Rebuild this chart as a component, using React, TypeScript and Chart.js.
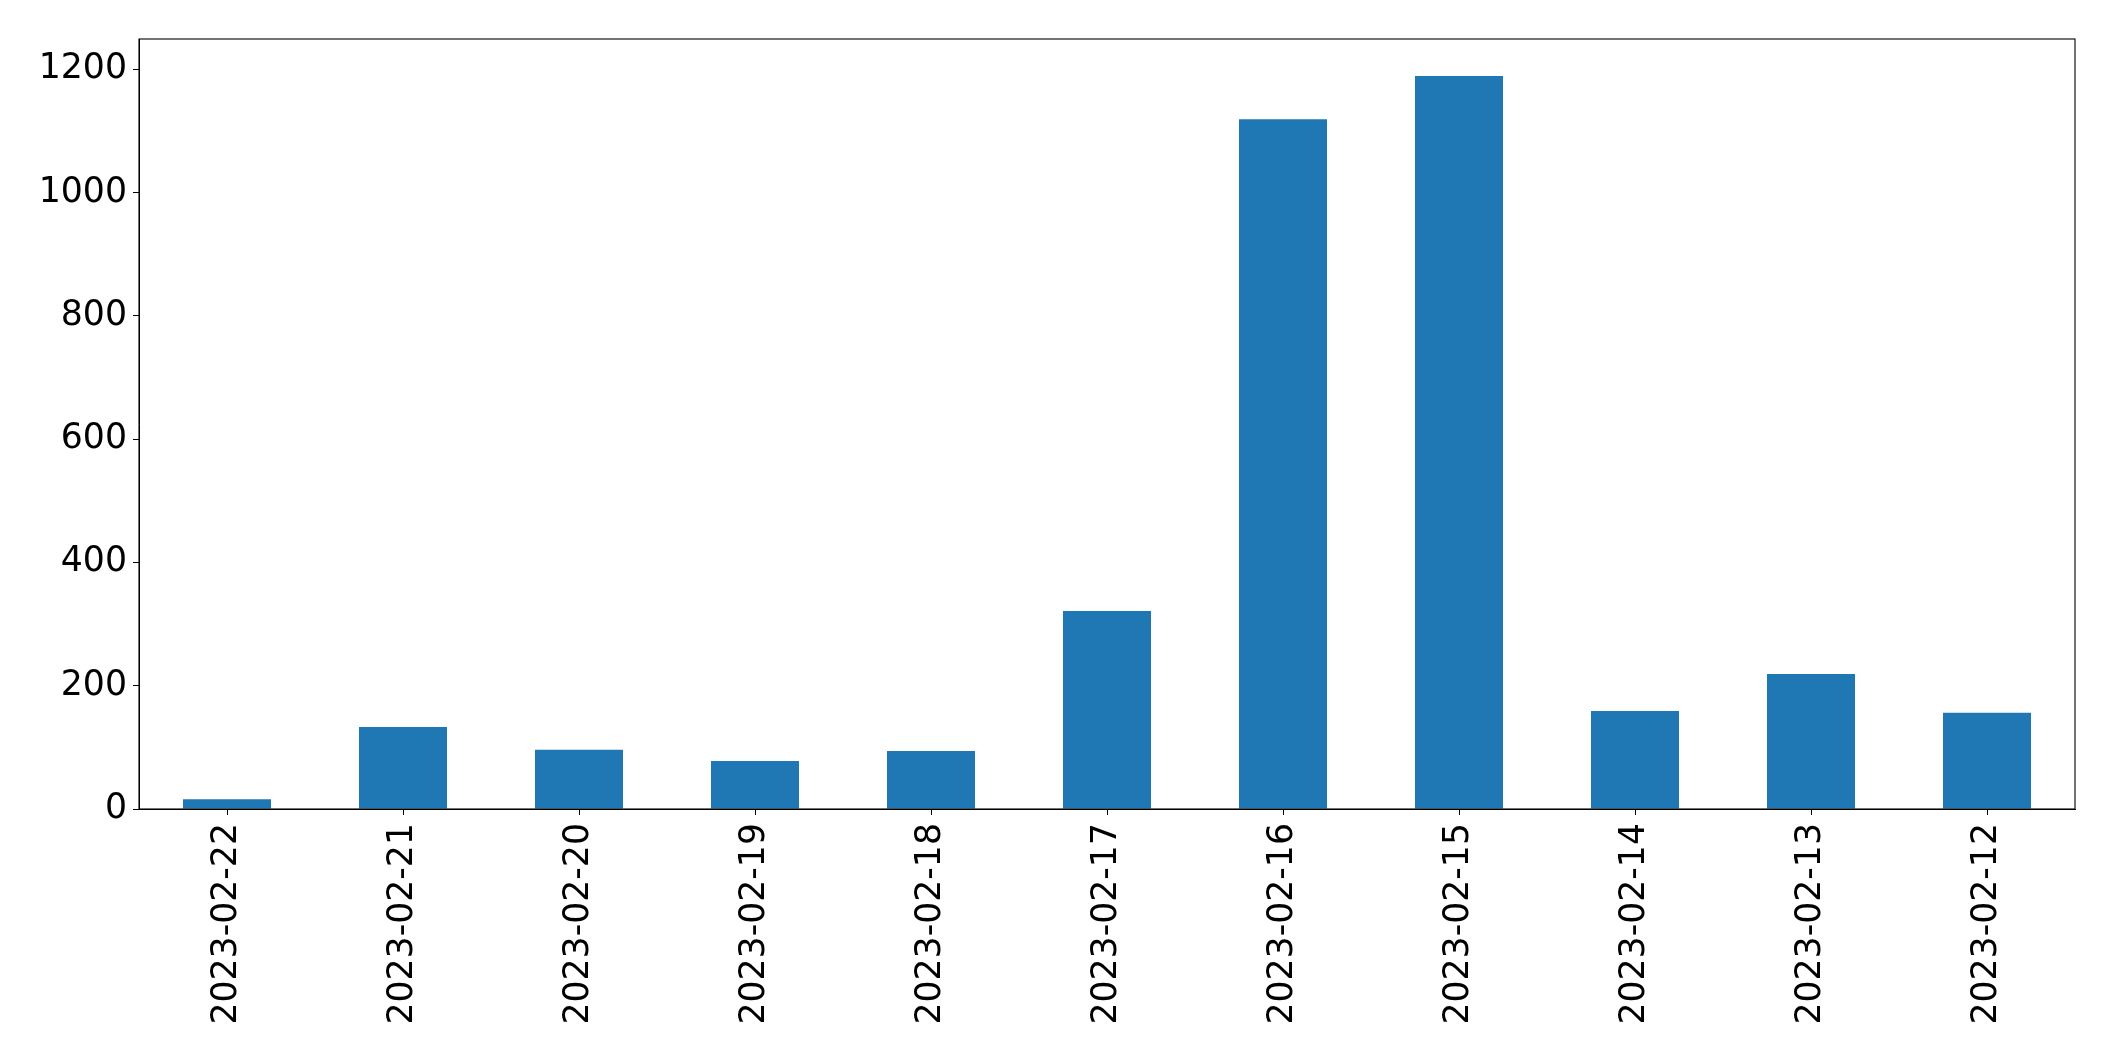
import React, { useEffect, useRef } from "react";
import { Chart, registerables } from "chart.js";

Chart.register(...registerables);

const categories = [
  "2023-02-22",
  "2023-02-21",
  "2023-02-20",
  "2023-02-19",
  "2023-02-18",
  "2023-02-17",
  "2023-02-16",
  "2023-02-15",
  "2023-02-14",
  "2023-02-13",
  "2023-02-12",
];

const counts = [16, 133, 96, 78, 94, 321, 1119, 1189, 159, 219, 156];

const yTickValues = [0, 200, 400, 600, 800, 1000, 1200];

const Y_MAX = 1249;

const framePlugin = {
  id: "frame",
  afterDatasetsDraw(chart: any) {
    const { ctx, chartArea } = chart;
    ctx.save();
    ctx.strokeStyle = "#000000";
    ctx.lineWidth = 1.1;
    ctx.strokeRect(
      chartArea.left,
      chartArea.top,
      chartArea.right - chartArea.left,
      chartArea.bottom - chartArea.top
    );
    ctx.restore();
  },
};

export default function App() {
  const canvasRef = useRef<HTMLCanvasElement | null>(null);

  useEffect(() => {
    document.body.style.margin = "0";
    const canvas = canvasRef.current;
    if (!canvas) return;
    const font = { family: "'DejaVu Sans', sans-serif", size: 34.7 };
    const chart = new Chart(canvas, {
      type: "bar",
      data: {
        labels: categories,
        datasets: [
          {
            data: counts,
            backgroundColor: "#1f77b4",
            borderWidth: 0,
            categoryPercentage: 1,
            barPercentage: 0.5,
          },
        ],
      },
      plugins: [framePlugin],
      options: {
        responsive: false,
        animation: false,
        devicePixelRatio: 1,
        layout: { padding: { top: 39, right: 40, left: 0, bottom: 0 } },
        plugins: {
          legend: { display: false },
          tooltip: { enabled: false },
          title: { display: false },
        },
        scales: {
          x: {
            offset: true,
            grid: {
              drawOnChartArea: false,
              drawTicks: true,
              tickLength: 6,
              tickColor: "#000000",
              tickWidth: 1,
              offset: false,
            },
            border: { display: true, color: "#000000", width: 1 },
            ticks: {
              color: "#000000",
              font,
              maxRotation: 90,
              minRotation: 90,
              padding: 8,
              autoSkip: false,
            },
            afterFit(scale: any) {
              scale.height = 1061 - 809;
            },
          },
          y: {
            min: 0,
            max: Y_MAX,
            grid: {
              drawOnChartArea: false,
              drawTicks: true,
              tickLength: 6,
              tickColor: "#000000",
              tickWidth: 1,
            },
            border: { display: true, color: "#000000", width: 1 },
            ticks: {
              color: "#000000",
              font,
              padding: 6,
              callback: (value: any) => String(value),
            },
            afterBuildTicks(scale: any) {
              scale.ticks = yTickValues.map((v) => ({ value: v }));
            },
            afterFit(scale: any) {
              scale.width = 139;
            },
          },
        },
      },
    });
    return () => chart.destroy();
  }, []);

  return (
    <div style={{ position: "absolute", left: 0, top: 0, width: 2115, height: 1061, background: "#ffffff" }}>
      <canvas ref={canvasRef} width={2115} height={1061} />
    </div>
  );
}
